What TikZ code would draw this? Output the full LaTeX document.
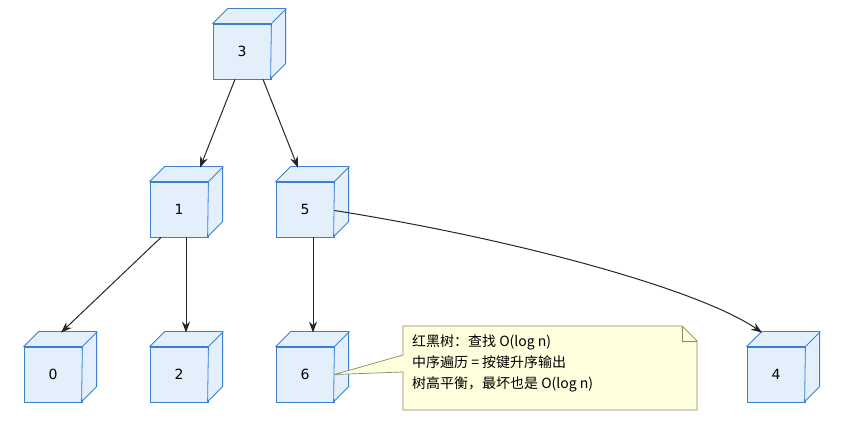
\documentclass[tikz,border=0pt]{standalone}
\usepackage{fontspec}
\setmainfont{DejaVu Sans}
\newfontfamily\cjk{Noto Sans CJK SC}
\usetikzlibrary{arrows.meta,calc}
\definecolor{bfill}{HTML}{E3F0FC}
\definecolor{bline}{HTML}{3B7FD0}
\definecolor{nfill}{HTML}{FEFFDD}
\definecolor{nline}{HTML}{8A8A5C}
\begin{document}
\begin{tikzpicture}[x=1pt,y=-1pt,
  box/.style={draw=bline,fill=bfill,minimum width=58pt,minimum height=55pt,inner sep=0pt,font=\fontsize{14}{16}\selectfont,line width=0.8pt},
  arr/.style={draw=black!85,line width=1pt,-{Stealth[length=11pt,width=8pt]}}]
\path[use as bounding box,fill=white] (0,0) rectangle (844,427);
\node[box] (n3) at (242,51.5) {3};
\node[box] (n1) at (179,209.5) {1};
\node[box] (n5) at (305,209.5) {5};
\node[box] (n0) at (53,374.5) {0};
\node[box] (n2) at (179,374.5) {2};
\node[box] (n6) at (305,374.5) {6};
\node[box] (n4) at (776,374.5) {4};
\foreach \n in {n3,n1,n5,n0,n2,n6,n4}{
  \draw[draw=bline,fill=bfill,line width=0.8pt,line join=round] (\n.north west) -- ++(15pt,15pt) -- ++(58pt,0pt) -- ++(0pt,-55pt) -- ++(-15pt,-15pt) -- (\n.north east) -- cycle;
  \draw[draw=bline,line width=0.8pt] (\n.north east) -- ++(15pt,15pt);
}
\draw[arr] ([xshift=-7pt]n3.south) -- ([xshift=21pt,yshift=14pt]n1.north);
\draw[arr] ([xshift=21pt]n3.south) -- ([xshift=-7pt,yshift=14pt]n5.north);
\draw[arr] ([xshift=-18pt]n1.south) -- ([xshift=8pt,yshift=14pt]n0.north);
\draw[arr] ([xshift=7pt]n1.south) -- ([xshift=7pt,yshift=14pt]n2.north);
\draw[arr] ([xshift=8pt]n5.south) -- ([xshift=8pt,yshift=14pt]n6.north);
\draw[arr] ([yshift=-1pt]n5.east) .. controls (520,240) and (700,290) .. ([xshift=-14pt,yshift=14pt]n4.north);
\node[inner sep=0pt,anchor=north west,align=left,font=\cjk\fontsize{14}{21}\selectfont] (nt) at (412,335)
  {红黑树：查找 O(log n)\\中序遍历 = 按键升序输出\\树高平衡，最坏也是 O(log n)};
\draw[draw=nline,fill=nfill,line width=0.7pt,line join=round]
  (403,326) -- (682,326) -- (697,341) -- (697,410) -- (403,410) -- (403,372) -- (n6.east) -- (403,355) -- cycle;
\draw[draw=nline,line width=0.7pt] (682,326) -- (682,341) -- (697,341);
\node[inner sep=0pt,anchor=north west,align=left,font=\cjk\fontsize{14}{21}\selectfont] at (412,335)
  {红黑树：查找 O(log n)\\中序遍历 = 按键升序输出\\树高平衡，最坏也是 O(log n)};
\end{tikzpicture}
\end{document}
